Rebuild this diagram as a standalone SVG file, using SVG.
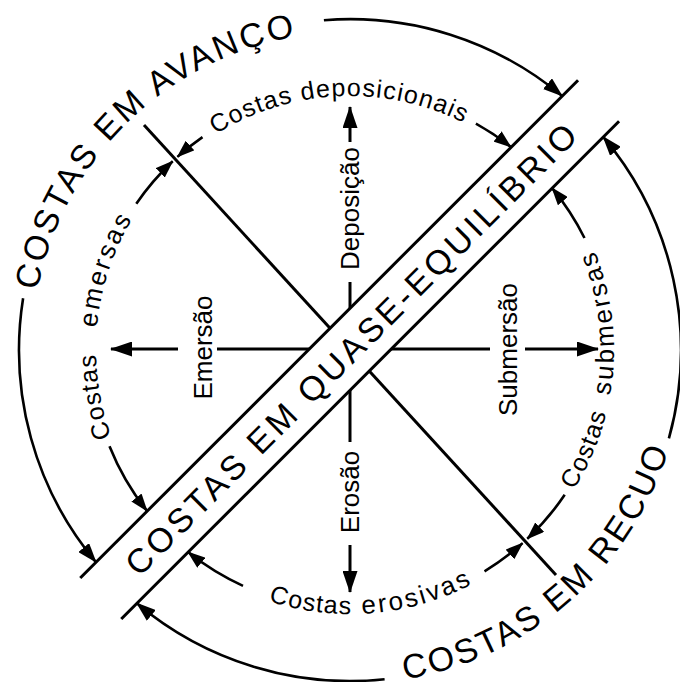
<svg xmlns="http://www.w3.org/2000/svg" width="680" height="682" viewBox="0 0 680 682">
<style>
.ln{fill:none;stroke:#000;stroke-width:3;stroke-linecap:butt}
.arc{fill:none;stroke:#000;stroke-width:2.6}
.big{font-family:"Liberation Sans",Arial,sans-serif;font-size:34px;fill:#000;letter-spacing:2.7px}
.lbl{font-family:"Liberation Sans",Arial,sans-serif;font-size:26px;fill:#000}
.arct{font-family:"Liberation Sans",Arial,sans-serif;font-size:25px;fill:#000;letter-spacing:1.2px}
.arcw{font-family:"Liberation Sans",Arial,sans-serif;font-size:26px;fill:#000;letter-spacing:2.5px}
</style>
<defs>
<marker id="ahL" viewBox="0 0 22 15" refX="21" refY="7.5" markerWidth="22" markerHeight="15" orient="auto" markerUnits="userSpaceOnUse"><path d="M0,0 L22,7.5 L0,15 Z" fill="#000"/></marker>
<marker id="ahM" viewBox="0 0 20 14" refX="19" refY="7" markerWidth="20" markerHeight="14" orient="auto" markerUnits="userSpaceOnUse"><path d="M0,0 L20,7 L0,14 Z" fill="#000"/></marker>
<marker id="ahS" viewBox="0 0 18 13" refX="17" refY="6.5" markerWidth="18" markerHeight="13" orient="auto" markerUnits="userSpaceOnUse"><path d="M0,0 L18,6.5 L0,13 Z" fill="#000"/></marker>
<path id="pAv" d="M 33.2 322.3 A 318 318 0 0 1 377.7 33.2"/>
<path id="pRe" d="M 379.1 682.7 A 334 334 0 0 0 682.7 379.1"/>
<path id="pIn1" d="M 170.4 529.6 A 254 254 0 0 1 96 350 A 254 254 0 0 1 529.6 170.4"/>
<path id="pIn2" d="M 163.3 536.7 A 264 264 0 0 0 614 350 A 264 264 0 0 0 536.7 163.3"/>
</defs>

<g id="connectors">
<line class="ln" x1="144" y1="125.1" x2="556" y2="574.9"/>
<path class="ln" d="M350 308 L350 282"/>
<path class="ln" d="M350 142 L350 107" marker-end="url(#ahL)"/>
<path class="ln" d="M350 390 L350 442"/>
<path class="ln" d="M350 545 L350 592" marker-end="url(#ahL)"/>
<path class="ln" d="M310 349 L217 349"/>
<path class="ln" d="M178 349 L111 349" marker-end="url(#ahL)"/>
<path class="ln" d="M390 349 L490 349"/>
<path class="ln" d="M525 349 L598 349" marker-end="url(#ahL)"/>

<path class="arc" d="M 23.1 298.2 A 331 331 0 0 0 95.9 562.1" marker-end="url(#ahM)"/>
<path class="arc" d="M 323.9 20.2 A 331 331 0 0 1 562.1 95.9" marker-end="url(#ahM)"/>
<path class="arc" d="M 668.9 438.4 A 331 331 0 0 0 603.2 136.8" marker-end="url(#ahM)"/>
<path class="arc" d="M 384.6 679.2 A 331 331 0 0 1 136.8 603.2" marker-end="url(#ahM)"/>

<path class="arc" d="M 136.3 203.7 A 259 259 0 0 1 172.7 161.2" marker-end="url(#ahS)"/>
<path class="arc" d="M 202.5 137.1 A 259 259 0 0 0 177.4 156.9" marker-end="url(#ahS)"/>
<path class="arc" d="M 475.9 123.7 A 259 259 0 0 1 510.9 147.0" marker-end="url(#ahS)"/>
<path class="arc" d="M 109.5 446.2 A 259 259 0 0 0 147.0 510.9" marker-end="url(#ahS)"/>
<path class="arc" d="M 584.5 238.0 A 259 259 0 0 0 552.1 188.1" marker-end="url(#ahS)"/>
<path class="arc" d="M 564.7 494.8 A 259 259 0 0 1 527.3 538.8" marker-end="url(#ahS)"/>
<path class="arc" d="M 484.5 571.3 A 259 259 0 0 0 522.6 543.1" marker-end="url(#ahS)"/>
<path class="arc" d="M 243.0 585.9 A 259 259 0 0 1 188.1 552.1" marker-end="url(#ahS)"/>
</g>

<g id="band" transform="translate(350,350) rotate(-45)">
<rect x="-352" y="-29.5" width="704" height="58" fill="#fff"/>
<line class="ln" x1="-352" y1="-29.5" x2="352" y2="-29.5"/>
<line class="ln" x1="-352" y1="28.5" x2="352" y2="28.5"/>
<text class="big" x="2.8" y="12" text-anchor="middle" style="letter-spacing:3.6px">COSTAS EM QUASE-EQUILÍBRIO</text>
</g>

<g id="avanco"><text class="big"><textPath href="#pAv" startOffset="32">COSTAS EM AVANÇO</textPath></text></g>
<g id="recuo"><text class="big"><textPath href="#pRe" startOffset="26">COSTAS EM RECUO</textPath></text></g>

<g id="deposicao"><text class="lbl" transform="translate(359,208.5) rotate(-90)" text-anchor="middle">Deposição</text></g>
<g id="emersao"><text class="lbl" transform="translate(212,347.5) rotate(-90)" text-anchor="middle">Emersão</text></g>
<g id="submersao"><text class="lbl" transform="translate(517,349.5) rotate(-90)" text-anchor="middle">Submersão</text></g>
<g id="erosao"><text class="lbl" transform="translate(359,492) rotate(-90)" text-anchor="middle">Erosão</text></g>

<g id="costas-emersas">
<text class="arct"><textPath href="#pIn1" startOffset="110.8">Costas</textPath></text>
<text class="arcw"><textPath href="#pIn1" startOffset="221.7">emersas</textPath></text>
</g>
<g id="costas-deposicionais">
<text class="arct"><textPath href="#pIn1" startOffset="456.6">Costas deposicionais</textPath></text>
</g>
<g id="costas-erosivas">
<text class="arct"><textPath href="#pIn2" startOffset="124.4">Costas</textPath></text>
<text class="arcw"><textPath href="#pIn2" startOffset="219.3">erosivas</textPath></text>
</g>
<g id="costas-submersas">
<text class="arct"><textPath href="#pIn2" startOffset="474.2">Costas</textPath></text>
<text class="arcw"><textPath href="#pIn2" startOffset="576">submersas</textPath></text>
</g>
</svg>
